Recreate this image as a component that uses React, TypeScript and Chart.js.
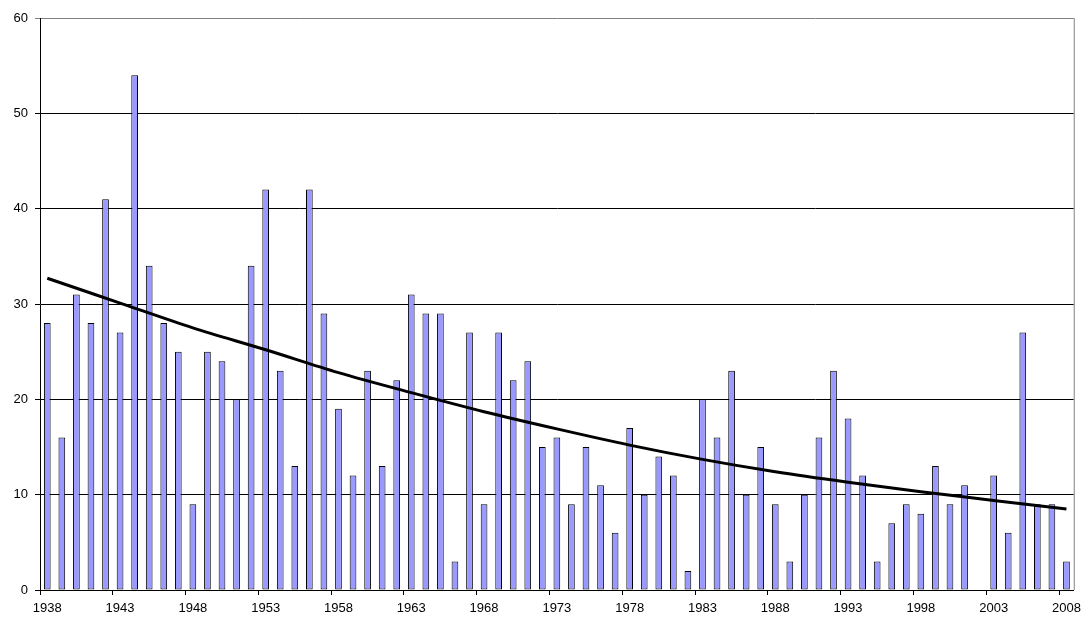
import React, { useEffect, useRef } from "react";
import { Chart, registerables } from "chart.js";

Chart.register(...registerables);

const years: string[] = [
  "1938","1939","1940","1941","1942","1943","1944","1945","1946","1947",
  "1948","1949","1950","1951","1952","1953","1954","1955","1956","1957",
  "1958","1959","1960","1961","1962","1963","1964","1965","1966","1967",
  "1968","1969","1970","1971","1972","1973","1974","1975","1976","1977",
  "1978","1979","1980","1981","1982","1983","1984","1985","1986","1987",
  "1988","1989","1990","1991","1992","1993","1994","1995","1996","1997",
  "1998","1999","2000","2001","2002","2003","2004","2005","2006","2007",
  "2008",
];

const counts: (number | null)[] = [
  28, 16, 31, 28, 41, 27, 54, 34, 28, 25,
  9, 25, 24, 20, 34, 42, 23, 13, 42, 29,
  19, 12, 23, 13, 22, 31, 29, 29, 3, 27,
  9, 27, 22, 24, 15, 16, 9, 15, 11, 6,
  17, 10, 14, 12, 2, 20, 16, 23, 10, 15,
  9, 3, 10, 16, 23, 18, 12, 3, 7, 9,
  8, 13, 9, 11, null, 12, 6, 27, 9, 9,
  3,
];

// Trend line values, every 5 years (1938, 1943, ..., 2008)
const trendYears: string[] = [
  "1938","1943","1948","1953","1958","1963","1968","1973",
  "1978","1983","1988","1993","1998","2003","2008",
];
const trendValues: number[] = [
  32.7, 30.1, 27.5, 25.2, 22.8, 20.7, 18.7, 16.9,
  15.2, 13.7, 12.4, 11.3, 10.3, 9.4, 8.5,
];

const yTicks: number[] = [0, 10, 20, 30, 40, 50, 60];

const FONT = { family: "'Liberation Sans', Arial, sans-serif", size: 13 };

export default function App() {
  const ref = useRef<HTMLCanvasElement | null>(null);

  useEffect(() => {
    if (!ref.current) return;
    const trend: (number | null)[] = years.map((y) => {
      const k = trendYears.indexOf(y);
      return k >= 0 ? trendValues[k] : null;
    });

    const borderPlugin = {
      id: "plotBorder",
      afterDatasetsDraw(chart: any) {
        const { ctx, chartArea } = chart;
        ctx.save();
        ctx.strokeStyle = "#808080";
        ctx.lineWidth = 1;
        ctx.beginPath();
        ctx.moveTo(chartArea.right + 0.5, chartArea.top);
        ctx.lineTo(chartArea.right + 0.5, chartArea.bottom);
        ctx.stroke();
        ctx.restore();
      },
    };

    const chart = new Chart(ref.current, {
      data: {
        labels: years,
        datasets: [
          {
            type: "line",
            label: "Trend",
            data: trend,
            borderColor: "#000000",
            borderWidth: 3,
            pointRadius: 0,
            spanGaps: true,
            cubicInterpolationMode: "monotone",
            fill: false,
            order: 0,
          },
          {
            type: "bar",
            label: "Count",
            data: counts,
            backgroundColor: "#9999FF",
            borderColor: "#000000",
            borderWidth: 1,
            borderSkipped: false,
            barPercentage: 0.46,
            categoryPercentage: 1.0,
            order: 1,
          },
        ],
      } as any,
      options: {
        animation: false,
        responsive: true,
        maintainAspectRatio: false,
        layout: { padding: { top: 18, right: 11, left: 0, bottom: 0 } },
        plugins: {
          legend: { display: false },
          tooltip: { enabled: false },
        },
        scales: {
          x: {
            type: "category",
            offset: true,
            grid: {
              offset: true,
              drawOnChartArea: false,
              drawTicks: true,
              tickLength: 5,
              color: (c: any) => (c.index % 5 === 0 ? "#000000" : "rgba(0,0,0,0)"),
            },
            border: { color: "#000000", width: 1 },
            ticks: {
              autoSkip: false,
              maxRotation: 0,
              minRotation: 0,
              padding: 6,
              color: "#000000",
              font: FONT,
              callback: (_v: any, i: number) => (i % 5 === 0 ? years[i] : ""),
            },
            afterFit: (s: any) => {
              s.height = 27;
            },
          },
          y: {
            min: yTicks[0],
            max: yTicks[yTicks.length - 1],
            afterBuildTicks: (s: any) => {
              s.ticks = yTicks.map((v) => ({ value: v }));
            },
            grid: {
              drawTicks: true,
              tickLength: 5,
              color: (c: any) => (c.tick && c.tick.value === 60 ? "#808080" : "#000000"),
            },
            border: { color: "#000000", width: 1 },
            ticks: {
              padding: 7,
              color: "#000000",
              font: FONT,
            },
            afterFit: (s: any) => {
              s.width = 40;
            },
          },
        },
      },
      plugins: [borderPlugin],
    } as any);

    return () => chart.destroy();
  }, []);

  return (
    <div style={{ position: "absolute", left: 0, top: 0, width: 1087, height: 617, background: "#fff" }}>
      <canvas ref={ref} />
    </div>
  );
}
